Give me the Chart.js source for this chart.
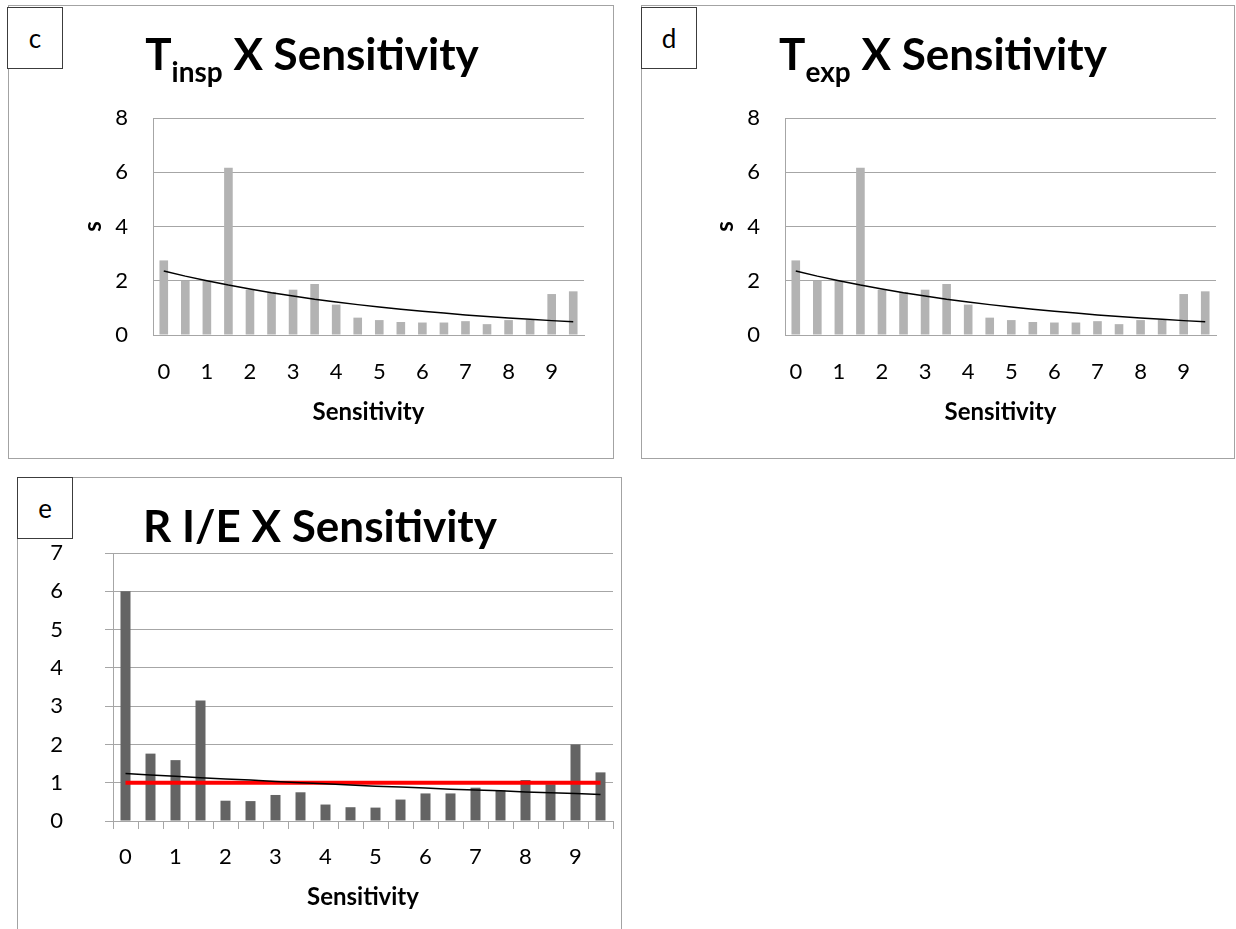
<!DOCTYPE html>
<html>
<head>
<meta charset="utf-8">
<title>Sensitivity charts</title>
<script src="https://cdn.jsdelivr.net/npm/chart.js@4/dist/chart.umd.min.js"></script>
<style>
  html, body { margin: 0; padding: 0; background: #fff; }
  body { position: relative; width: 1236px; height: 929px; overflow: hidden; font-family: Lato, "Open Sans", sans-serif; }
  .panel { position: absolute; box-sizing: border-box; border: 1px solid #a3a3a3; background: #fff; }
  .plot { position: absolute; }
  .tag { position: absolute; box-sizing: border-box; border: 1.5px solid #3c3c3c; background: #fff;
         font-size: 26px; color: #000; display: flex; align-items: center; justify-content: center; }
  .title { position: absolute; width: 600px; text-align: center; font-weight: 700; font-size: 44px;
           line-height: 1.2; white-space: nowrap; color: #000; }
  .title sub { font-size: 28px; vertical-align: -12px; line-height: 0; }
</style>
</head>
<body>

<div class="panel" style="left:8px; top:5px; width:606px; height:454px;"></div>
<div class="panel" style="left:641px; top:5px; width:594px; height:454px;"></div>
<div class="panel" style="left:17px; top:477px; width:605px; height:470px;"></div>

<div class="plot" style="left:8px; top:5px; width:606px; height:454px;"><canvas id="chartInsp"></canvas></div>
<div class="plot" style="left:641px; top:5px; width:594px; height:454px;"><canvas id="chartExp"></canvas></div>
<div class="plot" style="left:17px; top:477px; width:605px; height:454px;"><canvas id="chartRatio"></canvas></div>

<div class="title" style="left:12px; top:27px;">T<sub>insp</sub> X Sensitivity</div>
<div class="title" style="left:643px; top:27px;">T<sub>exp</sub> X Sensitivity</div>
<div class="title" style="left:20px; top:499px;">R I/E X Sensitivity</div>

<div class="tag" style="left:7px; top:7px; width:56px; height:62px;">c</div>
<div class="tag" style="left:641px; top:7px; width:56px; height:62px;">d</div>
<div class="tag" style="left:17px; top:477px; width:56px; height:62px;">e</div>

<script>
// Sensitivity levels on the category axis (only whole numbers are labelled)
const sensitivityLevels = ['0', '0.5', '1', '1.5', '2', '2.5', '3', '3.5', '4', '4.5',
                           '5', '5.5', '6', '6.5', '7', '7.5', '8', '8.5', '9', '9.5'];

// Inspiratory time (s)
const tInspSeconds = [2.75, 2.00, 2.00, 6.17, 1.67, 1.58, 1.67, 1.88, 1.12, 0.64,
                      0.55, 0.48, 0.46, 0.46, 0.51, 0.40, 0.55, 0.57, 1.51, 1.61];
const tInspTrend   = [2.36, 2.17, 2.00, 1.84, 1.70, 1.56, 1.44, 1.32, 1.22, 1.12,
                      1.03, 0.95, 0.88, 0.81, 0.74, 0.68, 0.63, 0.58, 0.53, 0.49];

// Expiratory time (s)
const tExpSeconds  = [2.75, 2.00, 2.00, 6.17, 1.67, 1.58, 1.67, 1.88, 1.12, 0.64,
                      0.55, 0.48, 0.46, 0.46, 0.51, 0.40, 0.55, 0.57, 1.51, 1.61];
const tExpTrend    = [2.36, 2.17, 2.00, 1.84, 1.70, 1.56, 1.44, 1.32, 1.22, 1.12,
                      1.03, 0.95, 0.88, 0.81, 0.74, 0.68, 0.63, 0.58, 0.53, 0.49];

// I/E ratio
const ieRatio      = [6.00, 1.76, 1.59, 3.15, 0.53, 0.52, 0.68, 0.75, 0.43, 0.36,
                      0.35, 0.56, 0.72, 0.72, 0.87, 0.80, 1.07, 0.96, 2.00, 1.27];
const ieRatioTrend = [1.24, 1.20, 1.17, 1.13, 1.10, 1.07, 1.03, 1.00, 0.97, 0.94,
                      0.91, 0.89, 0.86, 0.83, 0.81, 0.79, 0.76, 0.74, 0.72, 0.69];
const ieReference  = [1, 1, 1, 1, 1, 1, 1, 1, 1, 1,
                      1, 1, 1, 1, 1, 1, 1, 1, 1, 1];

// Value-axis tick labels
const secondsTicks = [0, 2, 4, 6, 8];
const ratioTicks   = [0, 1, 2, 3, 4, 5, 6, 7];

Chart.defaults.font.family = 'Lato, "Open Sans", sans-serif';
Chart.defaults.color = '#000';

const GRID = '#a6a6a6';

function barSet(values, colour) {
  return { type: 'bar', data: values, backgroundColor: colour, borderWidth: 0,
           barPercentage: 0.4, categoryPercentage: 1.0, order: 3 };
}
function lineSet(values, colour, width, order) {
  return { type: 'line', data: values, borderColor: colour, borderWidth: width,
           pointRadius: 0, fill: false, tension: 0, order: order };
}

function buildChart(id, g) {
  return new Chart(document.getElementById(id), {
    type: 'bar',
    data: { labels: sensitivityLevels, datasets: g.datasets },
    options: {
      responsive: true,
      maintainAspectRatio: false,
      animation: false,
      events: [],
      layout: { padding: { left: 0, top: g.top, right: g.right, bottom: 0 } },
      plugins: { legend: { display: false }, tooltip: { enabled: false } },
      scales: {
        x: {
          offset: true,
          grid: { display: true, offset: true, drawOnChartArea: false,
                  drawTicks: g.marks, tickLength: 8, color: GRID },
          border: { display: true, color: GRID, width: 1 },
          ticks: {
            autoSkip: false, maxRotation: 0, minRotation: 0, padding: g.xPad,
            font: { size: 22 }, color: '#000',
            callback: function (v, i) { return i % 2 === 0 ? this.getLabelForValue(v) : ''; }
          },
          title: { display: true, text: 'Sensitivity', color: '#000',
                   font: { size: 24, weight: 'bold' }, padding: { top: 0, bottom: g.xTitlePad } },
          afterFit: function (s) { s.height = g.xHeight; }
        },
        y: {
          min: g.ticks[0],
          max: g.ticks[g.ticks.length - 1],
          grid: { color: GRID, drawTicks: g.marks, tickLength: 8 },
          border: { display: true, color: GRID, width: 1 },
          ticks: { stepSize: g.ticks[1] - g.ticks[0], padding: g.yPad,
                   font: { size: 22 }, color: '#000' },
          title: g.yTitle
            ? { display: true, text: g.yTitle, color: '#000',
                font: { size: 24, weight: 'bold' }, padding: { top: g.yTitlePad, bottom: 0 } }
            : { display: false },
          afterFit: function (s) { s.width = g.yWidth; }
        }
      }
    }
  });
}

buildChart('chartInsp', {
  datasets: [barSet(tInspSeconds, '#b3b3b3'), lineSet(tInspTrend, '#000', 1.5, 1)],
  ticks: secondsTicks, yTitle: 's', yTitlePad: 70.6,
  top: 113, right: 30, yWidth: 145, xHeight: 124,
  marks: false, xPad: 24, yPad: 25, xTitlePad: 32.6
});

buildChart('chartExp', {
  datasets: [barSet(tExpSeconds, '#b3b3b3'), lineSet(tExpTrend, '#000', 1.5, 1)],
  ticks: secondsTicks, yTitle: 's', yTitlePad: 69.6,
  top: 113, right: 19, yWidth: 144, xHeight: 124,
  marks: false, xPad: 24, yPad: 25, xTitlePad: 32.6
});

buildChart('chartRatio', {
  datasets: [barSet(ieRatio, '#646464'),
             lineSet(ieReference, '#ff0000', 4, 2),
             lineSet(ieRatioTrend, '#000', 1.5, 1)],
  ticks: ratioTicks, yTitle: null,
  top: 76, right: 9, yWidth: 96, xHeight: 110,
  marks: true, xPad: 14.5, yPad: 42, xTitlePad: 19.6
});
</script>
</body>
</html>
